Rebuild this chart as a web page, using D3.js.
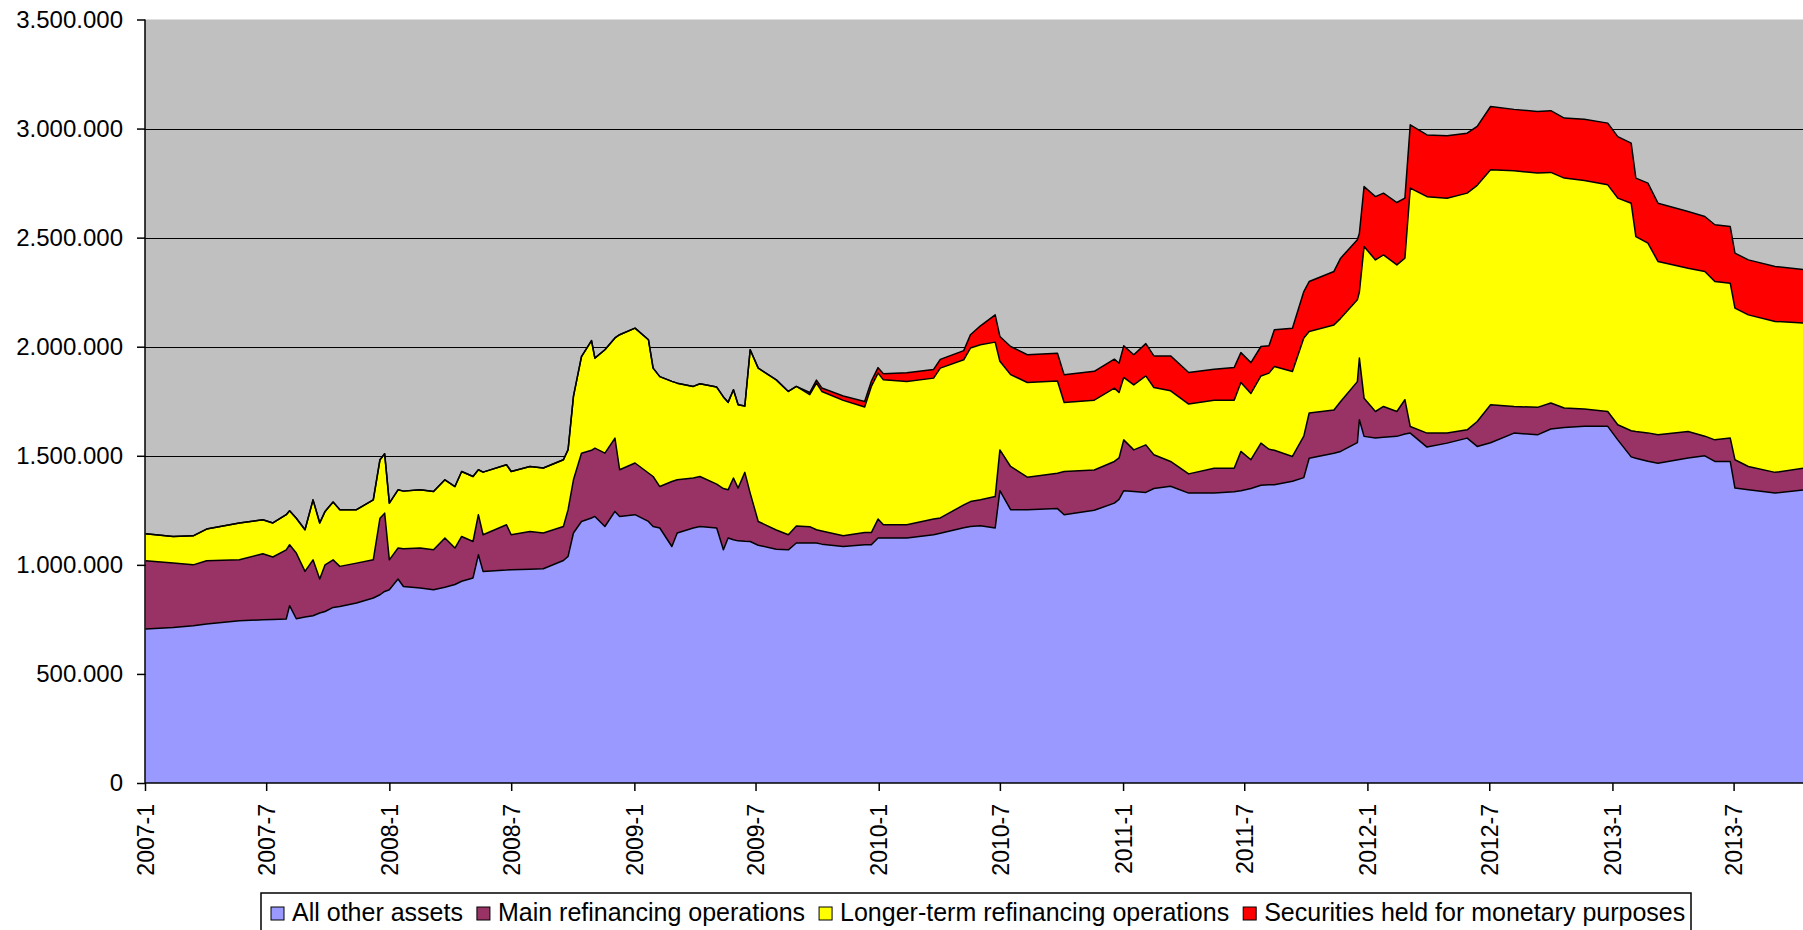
<!DOCTYPE html>
<html>
<head>
<meta charset="utf-8">
<script src="https://cdnjs.cloudflare.com/ajax/libs/d3/7.8.5/d3.min.js"></script>
<style>
    body { margin: 0; background: #ffffff; }
    svg text { font-family: Arial, "Liberation Sans", sans-serif; fill: #000; }
</style>
</head>
<body>
<div id="chart"></div>
<script>
// values in thousands (axis is 0 .. 3.500.000)
var dates = [
    "2007-01-02","2007-02-12","2007-03-14","2007-04-03","2007-05-22","2007-06-26","2007-07-11","2007-07-31","2007-08-05","2007-08-15",
    "2007-08-28","2007-09-09","2007-09-19","2007-09-27","2007-10-09","2007-10-19","2007-11-13","2007-12-08","2007-12-18","2007-12-25",
    "2008-01-01","2008-01-14","2008-01-22","2008-02-16","2008-03-07","2008-03-24","2008-04-08","2008-04-18","2008-05-05","2008-05-13",
    "2008-05-20","2008-06-24","2008-07-01","2008-07-29","2008-08-18","2008-09-17","2008-09-24","2008-10-02","2008-10-14","2008-10-29",
    "2008-11-03","2008-11-18","2008-12-03","2008-12-10","2009-01-02","2009-01-22","2009-01-29","2009-02-08","2009-02-26","2009-03-06",
    "2009-03-30","2009-04-09","2009-05-04","2009-05-14","2009-05-21","2009-05-29","2009-06-05","2009-06-15","2009-06-23","2009-07-05",
    "2009-08-01","2009-08-19","2009-08-31","2009-09-20","2009-09-30","2009-10-08","2009-11-09","2009-12-11","2009-12-21","2009-12-31",
    "2010-01-08","2010-02-12","2010-03-24","2010-04-03","2010-05-08","2010-05-18","2010-06-02","2010-06-24","2010-07-01","2010-07-17",
    "2010-08-11","2010-09-25","2010-10-05","2010-11-19","2010-12-19","2010-12-26","2011-01-02","2011-01-17","2011-02-04","2011-02-16",
    "2011-03-13","2011-04-09","2011-05-17","2011-06-16","2011-06-26","2011-07-11","2011-07-26","2011-08-07","2011-08-15","2011-09-11",
    "2011-09-28","2011-10-06","2011-11-12","2011-11-22","2011-12-17","2011-12-20","2011-12-27","2012-01-13","2012-01-25","2012-02-14",
    "2012-02-26","2012-03-05","2012-03-30","2012-04-29","2012-05-29","2012-06-13","2012-07-03","2012-08-07","2012-09-11","2012-10-01",
    "2012-10-21","2012-11-20","2012-12-25","2013-01-09","2013-01-29","2013-02-05","2013-02-23","2013-03-10","2013-04-24","2013-05-19",
    "2013-06-03","2013-06-26","2013-07-03","2013-07-23","2013-09-01","2013-10-15"
];

var otherAssets = [
    706, 713, 721, 729, 744, 748, 750, 752, 813, 753,
    761, 767, 779, 786, 805, 809, 825, 848, 863, 878,
    886, 935, 901, 894, 886, 897, 910, 925, 940, 1046,
    970, 976, 978, 980, 982, 1020, 1039, 1146, 1199, 1215,
    1222, 1176, 1245, 1222, 1230, 1199, 1176, 1169, 1084, 1146,
    1169, 1176, 1169, 1069, 1123, 1115, 1110, 1108, 1107, 1090,
    1072, 1069, 1100, 1100, 1100, 1095, 1084, 1092, 1092, 1123,
    1123, 1123, 1138, 1145, 1170, 1176, 1179, 1169, 1340, 1253,
    1253, 1258, 1230, 1250, 1283, 1300, 1340, 1336, 1332, 1350,
    1360, 1329, 1329, 1335, 1340, 1350, 1365, 1367, 1367, 1383,
    1400, 1489, 1512, 1520, 1560, 1665, 1589, 1581, 1585, 1589,
    1600, 1604, 1540, 1558, 1581, 1543, 1560, 1604, 1596, 1623,
    1630, 1635, 1635, 1573, 1495, 1489, 1475, 1466, 1490, 1500,
    1474, 1474, 1352, 1344, 1329, 1344
];

var mainRefinancing = [
    313, 295, 279, 290, 279, 303, 286, 317, 279, 301,
    209, 256, 156, 214, 218, 184, 183, 175, 351, 359,
    137, 142, 173, 183, 183, 226, 167, 205, 167, 184,
    168, 208, 160, 173, 164, 156, 214, 244, 313, 310,
    313, 336, 336, 214, 237, 222, 229, 190, 298, 244,
    229, 229, 201, 281, 221, 283, 242, 316, 222, 109,
    88, 69, 78, 75, 61, 60, 49, 56, 56, 87,
    61, 61, 72, 70, 105, 114, 119, 144, 187, 198,
    149, 162, 198, 185, 191, 190, 233, 191, 218, 155,
    114, 88, 114, 108, 180, 132, 193, 163, 158, 114,
    190, 207, 198, 229, 280, 283, 175, 122, 141, 114,
    157, 30, 64, 46, 38, 114, 174, 122, 126, 119,
    89, 80, 68, 69, 120, 122, 130, 130, 121, 90,
    99, 107, 130, 107, 95, 100
];

var longerTerm = [
    124, 122, 133, 145, 169, 156, 156, 161, 156, 160,
    191, 275, 257, 245, 265, 260, 245, 275, 268, 272,
    260, 267, 264, 267, 267, 267, 282, 298, 298, 206,
    287, 275, 290, 298, 298, 306, 275, 382, 443, 503,
    413, 474, 459, 619, 618, 611, 497, 504, 459, 443,
    420, 425, 445, 420, 401, 405, 382, 304, 657, 703,
    688, 657, 640, 605, 672, 640, 621, 576, 670, 669,
    664, 657, 646, 687, 665, 704, 711, 708, 406, 421,
    434, 423, 316, 320, 336, 300, 286, 298, 316, 308,
    324, 320, 312, 312, 316, 304, 308, 349, 384, 389,
    450, 374, 390, 381, 375, 302, 695, 695, 695, 672,
    649, 1093, 1084, 1077, 1085, 1083, 1077, 1081, 1074, 1057,
    1054, 1047, 1039, 1039, 1043, 894, 870, 795, 749, 755,
    726, 710, 695, 695, 692, 664
];

var securities = [
    0, 0, 0, 0, 0, 0, 0, 0, 0, 0,
    0, 0, 0, 0, 0, 0, 0, 0, 0, 0,
    0, 0, 0, 0, 0, 0, 0, 0, 0, 0,
    0, 0, 0, 0, 0, 0, 0, 0, 0, 0,
    0, 0, 0, 0, 0, 0, 0, 0, 0, 0,
    0, 0, 0, 0, 0, 0, 0, 0, 0, 0,
    0, 0, 0, 10, 14, 16, 20, 25, 24, 25,
    28, 40, 40, 40, 42, 61, 87, 125, 114, 129,
    127, 127, 127, 132, 133, 134, 145, 138, 148, 145,
    160, 145, 142, 150, 137, 141, 135, 125, 169, 199,
    213, 229, 245, 276, 275, 270, 275, 290, 283, 286,
    275, 290, 283, 286, 275, 270, 290, 281, 282, 283,
    275, 281, 283, 282, 275, 268, 275, 267, 260, 252,
    260, 260, 252, 252, 252, 245
];

var seriesKeys = ["other", "mro", "ltro", "smp"];
var seriesNames = ["All other assets", "Main refinancing operations",
    "Longer-term refinancing operations", "Securities held for monetary purposes"];
var yTicks = [0, 500000, 1000000, 1500000, 2000000, 2500000, 3000000, 3500000];

var colors = {other: "#9999ff", mro: "#993366", ltro: "#ffff00", smp: "#ff0000"};

var parseDate = d3.timeParse("%Y-%m-%d");
var rows = dates.map(function(d, i){
    return {
        date: parseDate(d),
        other: otherAssets[i] * 1000,
        mro: mainRefinancing[i] * 1000,
        ltro: longerTerm[i] * 1000,
        smp: securities[i] * 1000
    };
});

var width = 1803, height = 930;
var plot = {left: 145, top: 19.5, right: 1803, bottom: 783};

var x = d3.scaleTime()
    .domain([new Date(2007, 0, 1), new Date(2013, 6, 1)])
    .range([plot.left, 1733.6]);

var y = d3.scaleLinear()
    .domain([0, 3500000])
    .range([plot.bottom, plot.top]);

var svg = d3.select("#chart")
    .append("svg")
    .attr("width", width)
    .attr("height", height);

// plot area
svg.append("rect")
    .attr("x", plot.left)
    .attr("y", plot.top)
    .attr("width", plot.right - plot.left)
    .attr("height", plot.bottom - plot.top)
    .attr("fill", "#c0c0c0");

// gridlines (behind the areas)
svg.append("g")
    .selectAll("line")
    .data(yTicks.filter(function(t){ return t > 0 && t < 3500000; }))
    .enter()
    .append("line")
    .attr("x1", plot.left)
    .attr("x2", plot.right)
    .attr("y1", function(d){ return Math.round(y(d)) + 0.5; })
    .attr("y2", function(d){ return Math.round(y(d)) + 0.5; })
    .attr("stroke", "#000")
    .attr("stroke-width", 1.2);

var stacked = d3.stack().keys(seriesKeys)(rows);

var area = d3.area()
    .x(function(d){ return x(d.data.date); })
    .y0(function(d){ return y(d[0]); })
    .y1(function(d){ return y(d[1]); });

var topLine = d3.line()
    .x(function(d){ return x(d.data.date); })
    .y(function(d){ return y(d[1]); });

svg.append("g")
    .selectAll("path")
    .data(stacked)
    .enter()
    .append("path")
    .attr("d", area)
    .attr("fill", function(s){ return colors[s.key]; });

svg.append("g")
    .selectAll("path")
    .data(stacked)
    .enter()
    .append("path")
    .attr("d", topLine)
    .attr("fill", "none")
    .attr("stroke", "#000")
    .attr("stroke-width", 1.5)
    .attr("stroke-linejoin", "round");

// y axis
var fmt = d3.formatLocale({decimal: ",", thousands: ".", grouping: [3], currency: ["", ""]}).format(",d");

var yAxis = svg.append("g")
    .attr("transform", "translate(" + plot.left + ",0)")
    .call(d3.axisLeft(y).tickValues(yTicks).tickSize(8).tickPadding(14).tickFormat(fmt));
yAxis.select(".domain").remove();
yAxis.selectAll(".tick line").attr("stroke", "#000").attr("stroke-width", 1.5);
yAxis.selectAll(".tick text").style("font-size", "24px");

// x axis
var xAxis = svg.append("g")
    .attr("transform", "translate(0," + plot.bottom + ")")
    .call(d3.axisBottom(x).ticks(d3.timeMonth.every(6)).tickSize(8).tickFormat(d3.timeFormat("%Y-%-m")));
xAxis.select(".domain").remove();
xAxis.selectAll(".tick line").attr("stroke", "#000").attr("stroke-width", 1.5);
xAxis.selectAll(".tick text")
    .style("font-size", "23px")
    .attr("text-anchor", "end")
    .attr("transform", "rotate(-90)")
    .attr("x", -21)
    .attr("y", 0)
    .attr("dy", "0.36em");

// axis lines
svg.append("line")
    .attr("x1", plot.left).attr("x2", plot.left)
    .attr("y1", plot.top).attr("y2", plot.bottom)
    .attr("stroke", "#000").attr("stroke-width", 1.5);
svg.append("line")
    .attr("x1", plot.left).attr("x2", plot.right)
    .attr("y1", plot.bottom).attr("y2", plot.bottom)
    .attr("stroke", "#000").attr("stroke-width", 1.5);

// legend
var legend = svg.append("g");
legend.append("rect")
    .attr("x", 261)
    .attr("y", 893)
    .attr("width", 1430)
    .attr("height", 60)
    .attr("fill", "#fff")
    .attr("stroke", "#000")
    .attr("stroke-width", 1.5);

var lx = 271;
seriesKeys.forEach(function(k, i){
    legend.append("rect")
        .attr("x", lx)
        .attr("y", 907)
        .attr("width", 13)
        .attr("height", 13)
        .attr("fill", colors[k])
        .attr("stroke", "#000")
        .attr("stroke-width", 1);
    var t = legend.append("text")
        .attr("x", lx + 21)
        .attr("y", 921)
        .style("font-size", "25px")
        .text(seriesNames[i]);
    lx = lx + 21 + t.node().getComputedTextLength() + 14;
});
</script>
</body>
</html>
